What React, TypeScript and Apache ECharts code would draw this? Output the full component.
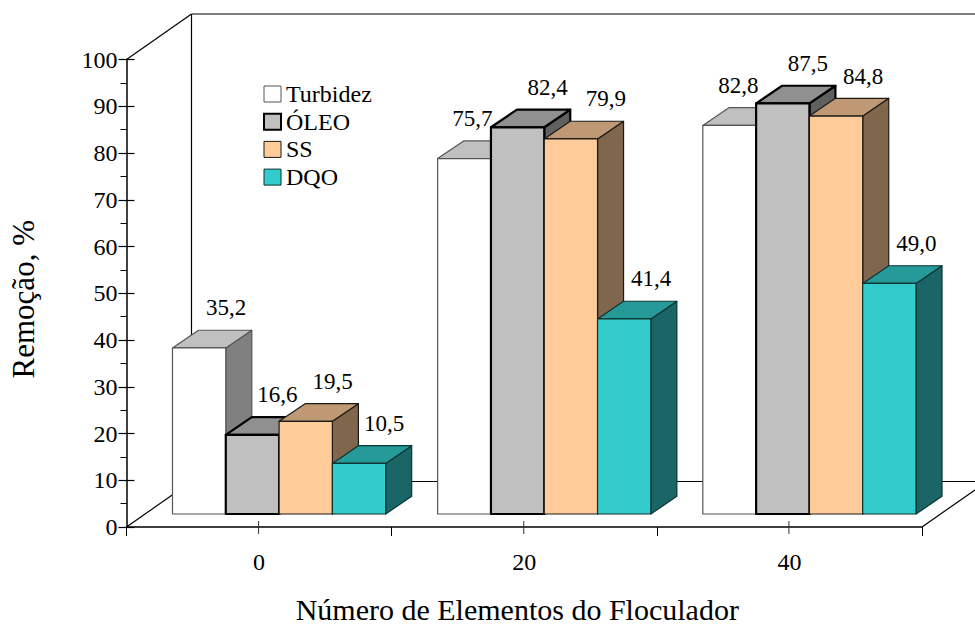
import React, { useEffect, useRef } from "react";
import * as echarts from "echarts";

const FONT = "'Liberation Serif', 'Times New Roman', serif";

const categories = ["0", "20", "40"];
const turbidez = [35.2, 75.7, 82.8];
const oleo = [16.6, 82.4, 87.5];
const ss = [19.5, 79.9, 84.8];
const dqo = [10.5, 41.4, 49.0];

const names = ["Turbidez", "ÓLEO", "SS", "DQO"];
const values = [turbidez, oleo, ss, dqo];

const looks = [
  { front: "#ffffff", top: "#c0c0c0", side: "#808080", stroke: "#555555", lw: 1.2 },
  { front: "#c0c0c0", top: "#909090", side: "#606060", stroke: "#000000", lw: 2.2 },
  { front: "#ffcc99", top: "#bf9973", side: "#80664d", stroke: "#1a1a1a", lw: 1.2 },
  { front: "#33cccc", top: "#269999", side: "#1a6666", stroke: "#0d3333", lw: 1.2 },
];

// horizontal shift of each value label from its bar's front centre
const labelDx = [
  [27, 25, 27, 25],
  [8, 30, 35, 27],
  [9, 25, 27, 27],
];

const BAR_W = 53.3;
const DEPTH_X = 26;
const DEPTH_Y = 17.7;

function barSeries(s: number) {
  const look = looks[s];
  return {
    type: "custom",
    name: names[s],
    coordinateSystem: "cartesian2d",
    silent: true,
    z: 5 + s,
    clip: false,
    encode: { x: 0, y: 1 },
    data: values[s].map((v, i) => [i, v]),
    renderItem: (_p: any, api: any) => {
      const i = api.value(0);
      const v = api.value(1);
      const base = api.coord([i, 0]);
      const top = api.coord([i, v]);
      const x0 = base[0] + 20 + (s - 2) * BAR_W;
      const x1 = x0 + BAR_W;
      const yb = base[1] - 13;
      const yt = top[1] - 14.5;
      const stroke = { stroke: look.stroke, lineWidth: look.lw, lineJoin: "round" };
      return {
        type: "group",
        children: [
          {
            type: "polygon",
            shape: { points: [[x1, yb], [x1 + DEPTH_X, yb - DEPTH_Y], [x1 + DEPTH_X, yt - DEPTH_Y], [x1, yt]] },
            style: { fill: look.side, ...stroke },
          },
          {
            type: "polygon",
            shape: { points: [[x0, yt], [x1, yt], [x1 + DEPTH_X, yt - DEPTH_Y], [x0 + DEPTH_X, yt - DEPTH_Y]] },
            style: { fill: look.top, ...stroke },
          },
          {
            type: "rect",
            shape: { x: x0, y: yt, width: BAR_W, height: yb - yt },
            style: { fill: look.front, ...stroke },
          },
          {
            type: "text",
            x: x0 + BAR_W / 2 + labelDx[i][s],
            y: yt - 40,
            style: {
              text: v.toFixed(1).replace(".", ","),
              font: `23px ${FONT}`,
              fill: "#000",
              align: "center",
              verticalAlign: "middle",
            },
          },
        ],
      };
    },
  };
}

const wallSeries = {
  type: "custom",
  silent: true,
  z: 1,
  clip: false,
  encode: { x: 0, y: 1 },
  data: categories.map((_c, i) => [i, 0]),
  renderItem: (p: any, api: any) => {
    const cs = p.coordSys;
    const lineStyle = { stroke: "#000", lineWidth: 1.2, fill: "none" };
    const base = api.coord([api.value(0), 0]);
    const children: any[] = [
      {
        type: "line",
        shape: { x1: base[0] - 0.5, y1: base[1] - 6, x2: base[0] - 0.5, y2: base[1] + 7 },
        style: { stroke: "#333", lineWidth: 1 },
      },
    ];
    if (p.dataIndex === 0) {
      const dx = 65;
      const dy = 45.5;
      const l = cs.x;
      const r = cs.x + cs.width;
      const t = cs.y;
      const b = cs.y + cs.height;
      const seg = (x1: number, y1: number, x2: number, y2: number) => ({
        type: "line",
        shape: { x1, y1, x2, y2 },
        style: lineStyle,
      });
      children.push(
        seg(l, b, l + dx, b - dy),
        seg(l, t, l + dx, t - dy),
        seg(l + dx, t - dy, l + dx, b - dy),
        seg(l + dx, t - dy, r + dx, t - dy),
        seg(l + dx, b - dy, r + dx, b - dy),
        seg(r, b, r + dx, b - dy)
      );
    }
    return { type: "group", children };
  },
};

const axisLine = { show: true, lineStyle: { color: "#000", width: 1.5 } };
const labelStyle = { fontFamily: FONT, fontSize: 24, color: "#000" };

const option = {
  animation: false,
  backgroundColor: "#fff",
  grid: { left: 126.5, right: 53, top: 59.5, bottom: 100, containLabel: false, outerBoundsMode: "none" },
  legend: {
    show: true,
    orient: "vertical",
    left: 263,
    top: 82,
    padding: 0,
    itemWidth: 17,
    itemHeight: 16,
    itemGap: 3.7,
    selectedMode: false,
    icon: "rect",
    textStyle: { fontFamily: FONT, fontSize: 24, color: "#000", padding: [0, 0, 0, 0] },
    data: names.map((name, s) => ({
      name,
      icon: "rect",
      itemStyle: {
        color: looks[s].front,
        borderColor: looks[s].stroke,
        borderWidth: s === 1 ? 2 : 1,
      },
    })),
  },
  xAxis: {
    type: "category",
    data: categories,
    name: "Número de Elementos do Floculador",
    nameLocation: "middle",
    nameGap: 67,
    nameTextStyle: { fontFamily: FONT, fontSize: 30, color: "#000", padding: [0, 14, 0, 0] },
    axisLine,
    axisTick: { show: true, length: 9, lineStyle: { color: "#000", width: 1 } },
    axisLabel: { ...labelStyle, margin: 23 },
    splitLine: { show: false },
  },
  yAxis: [
    {
      type: "value",
      min: 0,
      max: 100,
      interval: 10,
      name: "Remoção, %",
      nameLocation: "middle",
      nameGap: 88,
      nameRotate: 90,
      nameTextStyle: { fontFamily: FONT, fontSize: 31, color: "#000", padding: [0, 12, 0, 0] },
      axisLine,
      axisTick: { show: true, length: 8, lineStyle: { color: "#000", width: 1.2 } },
      minorTick: { show: true, splitNumber: 2, length: 6, lineStyle: { color: "#000", width: 1 } },
      axisLabel: { ...labelStyle, margin: 9 },
      splitLine: { show: false },
      minorSplitLine: { show: false },
    },
    {
      type: "value",
      position: "left",
      min: 0,
      max: 100,
      interval: 10,
      axisLine: { show: false },
      axisTick: { show: true, inside: true, length: 8, lineStyle: { color: "#000", width: 1.2 } },
      axisLabel: { show: false },
      splitLine: { show: false },
    },
  ],
  series: [wallSeries, ...names.map((_n, s) => barSeries(s))],
};

export default function App() {
  const ref = useRef<HTMLDivElement>(null);
  useEffect(() => {
    document.body.style.margin = "0";
    const chart = echarts.init(ref.current!, undefined, { renderer: "svg" });
    chart.setOption(option as any);
    return () => chart.dispose();
  }, []);
  return <div ref={ref} style={{ width: 975, height: 627 }} />;
}
